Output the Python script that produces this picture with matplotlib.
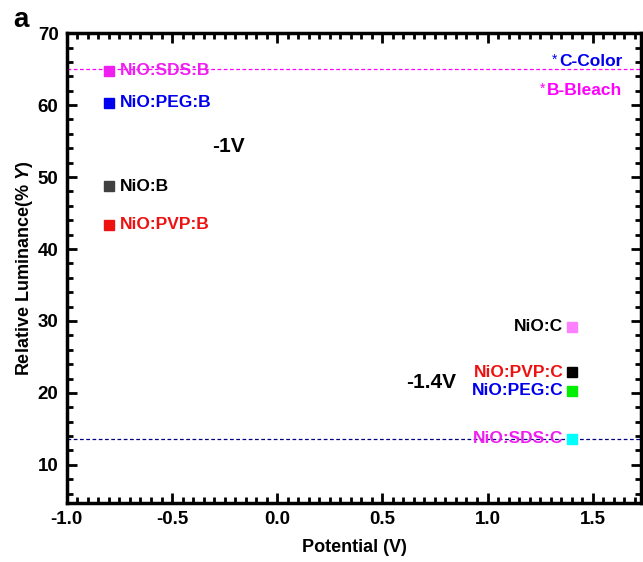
import matplotlib
matplotlib.use("Agg")
import matplotlib.pyplot as plt
from matplotlib.ticker import MultipleLocator

plt.rcParams['font.family'] = ['Liberation Sans', 'DejaVu Sans']
plt.rcParams['font.weight'] = 'bold'
plt.rcParams['axes.unicode_minus'] = False
plt.rcParams['mathtext.fontset'] = 'custom'
plt.rcParams['mathtext.it'] = 'Liberation Sans:italic:bold'
plt.rcParams['mathtext.rm'] = 'Liberation Sans:bold'

# Bleach states (-1 V)
bleach_labels = ['NiO:SDS:B', 'NiO:PEG:B', 'NiO:B', 'NiO:PVP:B']
bleach_x = [-0.8, -0.8, -0.8, -0.8]
bleach_y = [64.8, 60.3, 48.7, 43.4]
bleach_marker_colors = ['#f01ef0', '#0000ee', '#404040', '#ee1111']
bleach_text_colors = ['#f01ef0', '#0000ee', '#000000', '#ee1111']

# Color states (-1.4 V)
color_labels = ['NiO:C', 'NiO:PVP:C', 'NiO:PEG:C', 'NiO:SDS:C']
color_x = [1.4, 1.4, 1.4, 1.4]
color_y = [29.2, 22.9, 20.3, 13.6]
color_marker_colors = ['#ff80ff', '#000000', '#00ee00', '#00ffff']
color_text_colors = ['#000000', '#ee1111', '#0000ee', '#f01ef0']

bleach_ref = 65.0
color_ref = 13.6

fig = plt.figure(figsize=(6.43, 5.62), dpi=100)
ax = fig.add_axes([0.104, 0.105, 0.893, 0.836])

ax.axhline(bleach_ref, color='#ff00ff', linestyle=(0, (3, 2)), linewidth=0.9, zorder=1)
ax.axhline(color_ref, color='#000080', linestyle=(0, (3, 2)), linewidth=0.9, zorder=1)

for x, y, mc, tc, lab in zip(bleach_x, bleach_y, bleach_marker_colors, bleach_text_colors, bleach_labels):
    ax.plot([x], [y], marker='s', markersize=6.5, color=mc, linestyle='none', zorder=3)
    ax.text(x + 0.05, y, lab, color=tc, fontsize=12.5, fontweight='bold', va='center', ha='left')

for x, y, mc, tc, lab in zip(color_x, color_y, color_marker_colors, color_text_colors, color_labels):
    ax.plot([x], [y], marker='s', markersize=6.5, color=mc, linestyle='none', zorder=3)
    ax.text(x - 0.04, y, lab, color=tc, fontsize=12.5, fontweight='bold', va='center', ha='right')

ax.text(-0.23, 54.3, '-1V', fontsize=15, fontweight='bold', ha='center', va='center')
ax.text(0.73, 21.5, '-1.4V', fontsize=15, fontweight='bold', ha='center', va='center')

t1 = ax.text(1.64, 66.0, 'C-Color', color='#0000ee', fontsize=12.5, fontweight='bold', ha='right', va='center')
t2 = ax.text(1.64, 62.0, 'B-Bleach', color='#ff00ff', fontsize=12.5, fontweight='bold', ha='right', va='center')

ax.set_xlim(-1.0, 1.73)
ax.set_ylim(4.7, 70)
ax.xaxis.set_major_locator(MultipleLocator(0.5))
ax.xaxis.set_minor_locator(MultipleLocator(0.05))
ax.yaxis.set_minor_locator(MultipleLocator(2))
ax.set_yticks([10, 20, 30, 40, 50, 60, 70])

ax.tick_params(which='both', direction='in', top=True, right=True, width=2)
ax.tick_params(which='major', length=7, labelsize=13.5, pad=6)
ax.tick_params(which='minor', length=4)
for lab in ax.get_xticklabels() + ax.get_yticklabels():
    lab.set_fontweight('bold')
for s in ax.spines.values():
    s.set_linewidth(2.5)

ax.set_xlabel('Potential (V)', fontsize=13, fontweight='bold', labelpad=8)
ax.set_ylabel(r'Relative Luminance(% $Y$)', fontsize=13, fontweight='bold', labelpad=2)

fig.text(0.02, 0.965, 'a', fontsize=20, fontweight='bold', ha='left', va='center')

# small asterisks just left of the note texts
renderer = fig.canvas.get_renderer()
for t in (t1, t2):
    bb = t.get_window_extent(renderer=renderer)
    ax.annotate('*', xy=(bb.x0, bb.y1), xycoords='figure pixels',
                xytext=(-1, 1), textcoords='offset points',
                color=t.get_color(), fontsize=10, fontweight='normal',
                ha='right', va='top')

fig.savefig('out.png', dpi=100)
